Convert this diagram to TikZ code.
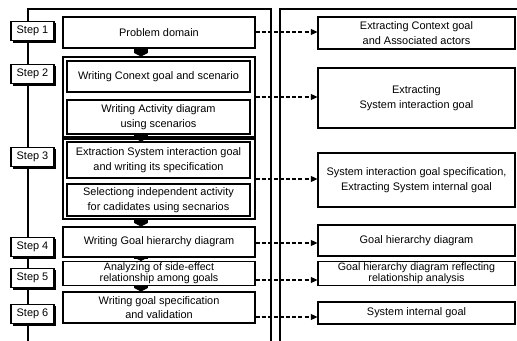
\documentclass[tikz,border=0pt]{standalone}
\usepackage{fontspec}
\setmainfont{Liberation Sans}
\usetikzlibrary{arrows.meta,shadows}
\begin{document}
\begin{tikzpicture}[x=0.75pt,y=-0.75pt,
  txt/.style={font=\fontsize{8.2}{11}\selectfont, align=center, inner sep=0pt},
  tight/.style={font=\fontsize{8}{8.6}\selectfont},
  box/.style={txt, draw, line width=0.8pt, fill=white},
  mainbox/.style={box, minimum width=144pt},
  innerbox/.style={box, minimum width=137.25pt},
  resbox/.style={box, minimum width=147.75pt},
  stepbox/.style={box, minimum width=32.25pt, minimum height=14.5pt,
    drop shadow={shadow xshift=1.6pt, shadow yshift=-1.6pt, fill=black, opacity=1}},
  frame/.style={line width=0.9pt},
  flow/.style={line width=10pt, -{Triangle[length=2.5pt,width=10pt]}},
  dasharrow/.style={line width=0.9pt, dash pattern=on 3pt off 1.6pt,
    -{Triangle[length=5pt,width=4.5pt]}}
]
\useasboundingbox (0,0) rectangle (517,341);

% frames of the two columns
\draw[frame] (28,341) -- (28,9) -- (271,9) -- (271,341);
\draw[frame] (280,341) -- (280,9) -- (517,9);

% process column
\node[mainbox, minimum height=23.25pt] (pd) at (159,32.5) {Problem domain};

\node[mainbox, minimum height=60pt] (g2) at (159,97) {};
\node[innerbox, minimum height=23.25pt] (i21) at (158.5,76.5) {Writing Conext goal and scenario};
\node[innerbox, minimum height=25.5pt] (i22) at (158.5,117) {Writing Activity diagram\\using scenarios};

\node[mainbox, minimum height=60pt] (g3) at (159,179) {};
\node[innerbox, minimum height=27pt] (i31) at (158.5,160) {Extraction System interaction goal\\and writing its specification};
\node[innerbox, minimum height=24pt] (i32) at (158.5,200) {Selectiong independent activity\\for cadidates using secnarios};

\node[mainbox, minimum height=22.5pt] (m4) at (159,242) {Writing Goal hierarchy diagram};
\node[mainbox, tight, minimum height=18pt] (m5) at (159,273.5) {Analyzing of side-effect\\relationship among goals};
\node[mainbox, minimum height=23.25pt] (m6) at (159,307.5) {Writing goal specification\\and validation};

% step labels on the left rail
\node[stepbox] (s1) at (32.5,31) {Step 1};
\node[stepbox] (s2) at (32.5,74) {Step 2};
\node[stepbox] (s3) at (32.5,157) {Step 3};
\node[stepbox] (s4) at (32.5,247) {Step 4};
\node[stepbox] (s5) at (32.5,278) {Step 5};
\node[stepbox] (s6) at (32.5,314) {Step 6};

% result column
\node[resbox, minimum height=24pt] (r1) at (416.5,33) {Extracting Context goal\\and Associated actors};
\node[resbox, minimum height=45pt] (r2) at (416.5,98) {Extracting\\System interaction goal};
\node[resbox, minimum height=40.5pt] (r3) at (416.5,180) {System interaction goal specification,\\Extracting System internal goal};
\node[resbox, minimum height=23.25pt] (r4) at (416.5,240.5) {Goal hierarchy diagram};
\node[resbox, tight, minimum height=17.5pt] (r5) at (416.5,273.5) {Goal hierarchy diagram reflecting\\relationship analysis};
\node[resbox, minimum height=16.5pt] (r6) at (416.5,313) {System internal goal};

% flow between process steps
\coordinate (ax) at (141,0);
\draw[flow] (pd.south -| ax) -- (g2.north -| ax);
\draw[flow] (i22.south -| ax) -- (i31.north -| ax);
\draw[flow] (g3.south -| ax) -- (m4.north -| ax);
\draw[flow] (m4.south -| ax) -- (m5.north -| ax);
\draw[flow] (m5.south -| ax) -- (m6.north -| ax);

% products of each step
\coordinate (a1) at (0,32);
\coordinate (a2) at (0,97);
\coordinate (a3) at (0,179);
\coordinate (a4) at (0,243);
\coordinate (a5) at (0,280);
\coordinate (a6) at (0,317);
\draw[dasharrow] (pd.east |- a1) -- (r1.west |- a1);
\draw[dasharrow] (g2.east |- a2) -- (r2.west |- a2);
\draw[dasharrow] (g3.east |- a3) -- (r3.west |- a3);
\draw[dasharrow] (m4.east |- a4) -- (r4.west |- a4);
\draw[dasharrow] (m5.east |- a5) -- (r5.west |- a5);
\draw[dasharrow] (m6.east |- a6) -- (r6.west |- a6);
\end{tikzpicture}
\end{document}
